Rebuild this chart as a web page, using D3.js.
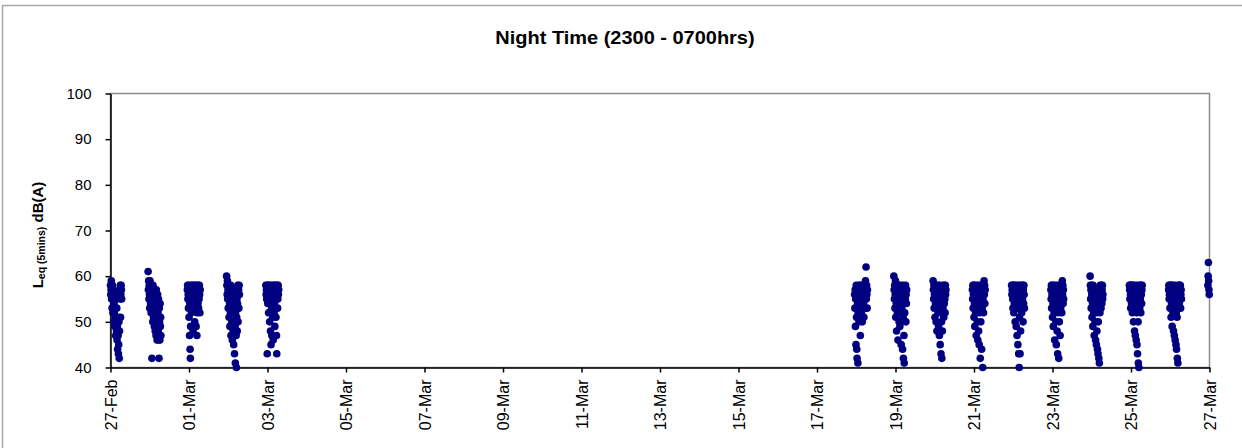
<!DOCTYPE html>
<html lang="en">
<head>
<meta charset="utf-8">
<title>Night Time (2300 - 0700hrs)</title>
<script src="https://cdn.jsdelivr.net/npm/d3@7"></script>
<style>
    body { margin: 0; background: #fff; }
    text { font-family: "Liberation Sans", Arial, sans-serif; }
</style>
</head>
<body>
<script>
// x axis tick labels (every 2 days) and y ticks
var xTickLabels = ["27-Feb","01-Mar","03-Mar","05-Mar","07-Mar","09-Mar","11-Mar","13-Mar",
                   "15-Mar","17-Mar","19-Mar","21-Mar","23-Mar","25-Mar","27-Mar"];
var yTicks = [40, 50, 60, 70, 80, 90, 100];

// start of each logged night, readings every 10 minutes after it
var nightStarts = ["27-Feb 00:00","27-Feb 23:00","28-Feb 23:00","01-Mar 23:00","02-Mar 23:00",
                   "17-Mar 23:00","18-Mar 23:00","19-Mar 23:00","20-Mar 23:00","21-Mar 23:00",
                   "22-Mar 23:00","23-Mar 23:00","24-Mar 23:00","25-Mar 23:00","26-Mar 23:00"];

// Leq (5mins) dB(A) per night
var night01 = [58,56,57,59,55,57,53,58,56,52,55,57,50,54,52,56,49,53,51,47,55,50,48,53,46,49,44,51,47,43,45,50,42,48,57,55,58,51,56,58,57,55];
var night02 = [61,57,59,55,58,56,53,59,57,54,58,52,56,55,42,57,53,50,58,55,51,54,57,49,52,56,48,55,53,47,57,51,54,46,50,56,52,48,55,47,42,53,50,46,54,49,51,47];
var night03 = [57,58,55,56,53,58,51,57,47,54,44,42,49,56,58,52,57,55,58,53,56,48,57,58,55,54,57,50,58,56,53,57,49,55,58,47,52,57,56,54,58,53,57,55,58,56,52,57];
var night04 = [60,58,56,59,55,57,53,58,56,51,57,54,49,56,52,58,47,55,53,50,57,46,54,52,48,56,45,53,50,43,55,49,41,52,57,47,40,51,55,48,54,58,50,56,57,53,58,56];
var night05 = [58,56,57,55,58,43,57,54,58,56,52,57,55,58,50,54,57,48,56,45,58,53,47,57,55,51,58,46,56,57,52,58,54,49,57,55,58,51,56,47,43,57,58,53,55,58,56,57];
var night06 = [56,53,57,49,55,45,58,51,44,42,57,54,41,52,56,58,50,55,57,53,58,47,56,54,57,52,58,55,50,57,53,56,58,54,51,57,55,58,53,56,59,57,62,55,58,56,53,57];
var night07 = [60,57,55,58,53,56,59,51,57,54,48,58,55,52,57,46,56,53,58,50,55,57,49,54,58,52,56,45,57,53,50,55,44,58,51,42,54,47,41,56,52,57,55,58,50,56,54,57];
var night08 = [59,57,55,58,53,56,58,51,57,54,58,50,56,55,48,57,53,58,52,56,49,57,54,47,58,55,45,56,52,43,57,50,42,55,48,58,53,56,57,51,58,54,57,55,52,58,56,57];
var night09 = [57,55,58,53,56,58,51,57,54,49,58,55,52,57,47,56,53,58,50,55,46,57,54,48,56,45,58,52,55,42,57,50,54,58,44,56,53,57,40,55,58,52,57,59,56,58,54,57];
var night10 = [58,56,57,58,55,53,57,58,52,56,54,58,57,50,55,53,58,49,56,57,47,54,58,45,53,57,43,55,40,51,58,43,56,48,57,54,58,52,56,57,55,58,50,57,54,58,56,53];
var night11 = [57,55,58,53,56,58,51,57,54,49,58,55,52,57,46,56,53,58,50,55,45,57,54,48,56,43,58,52,55,42,57,50,54,58,47,56,53,57,55,58,52,57,59,56,58,54,57,55];
var night12 = [60,58,55,57,53,58,56,51,57,54,49,58,55,52,57,47,56,53,50,55,46,57,54,45,52,48,56,44,53,43,50,57,42,54,41,56,52,58,55,57,53,58,56,54,57,58,55,56];
var night13 = [58,57,55,58,56,53,58,57,54,56,58,52,57,55,58,50,56,54,57,48,55,58,47,53,56,46,57,52,45,55,43,58,50,41,54,40,57,56,53,58,55,57,52,58,56,54,57,58];
var night14 = [57,58,55,56,58,53,57,55,58,51,56,54,58,49,57,55,52,58,48,56,54,47,57,53,46,55,58,45,52,44,56,51,42,55,41,57,53,58,56,54,58,57,55,58,53,56,57,55];
var night15 = [58,60,63,59,57,56];

var nights = [night01,night02,night03,night04,night05,night06,night07,night08,
              night09,night10,night11,night12,night13,night14,night15];

var parseDay = d3.utcParse("%d-%b %Y");
var parseStart = d3.utcParse("%d-%b %H:%M %Y");

var points = [];
nights.forEach(function(vals, n) {
    var t0 = parseStart(nightStarts[n] + " 2009");
    vals.forEach(function(v, i) {
        points.push({t: d3.utcMinute.offset(t0, i * 10), v: v});
    });
});

var w = 1242, h = 448;
var x0 = 110.5, x1 = 1209.5, y0 = 93.5, y1 = 367.5;

var svg = d3.select("body").append("svg")
    .attr("width", w)
    .attr("height", h);

// outer chart frame
svg.append("path")
    .attr("d", "M2.5," + h + " V5.5 H" + w)
    .attr("fill", "none")
    .attr("stroke", "#a6a6a6")
    .attr("stroke-width", 1.5);

var x = d3.scaleUtc()
    .domain([parseDay("27-Feb 2009"), parseDay("27-Mar 2009")])
    .range([x0, x1]);

var y = d3.scaleLinear()
    .domain([40, 100])
    .range([y1, y0]);

// plot area border (top/right grey)
svg.append("rect")
    .attr("x", x0).attr("y", y0)
    .attr("width", x1 - x0).attr("height", y1 - y0)
    .attr("fill", "none")
    .attr("stroke", "#8c8c8c")
    .attr("stroke-width", 1.5);

var yAxis = svg.append("g")
    .attr("transform", "translate(" + x0 + ",0)")
    .call(d3.axisLeft(y).tickValues(yTicks).tickSize(5).tickSizeOuter(0).tickPadding(14));
yAxis.selectAll("text").attr("font-size", 15).attr("fill", "#000");

var xAxis = svg.append("g")
    .attr("transform", "translate(0," + y1 + ")")
    .call(d3.axisBottom(x)
        .tickValues(xTickLabels.map(function(s) { return parseDay(s + " 2009"); }))
        .tickFormat(d3.utcFormat("%d-%b"))
        .tickSize(5).tickSizeOuter(0));
xAxis.selectAll("text")
    .attr("font-size", 16)
    .attr("fill", "#000")
    .attr("transform", "rotate(-90)")
    .attr("text-anchor", "end")
    .attr("x", -12)
    .attr("y", 0)
    .attr("dy", "0.35em");

svg.selectAll(".domain, .tick line").attr("stroke", "#000").attr("stroke-width", 1.5);

// title
svg.append("text")
    .attr("transform", "translate(625,44) scale(1.11,1)")
    .attr("text-anchor", "middle")
    .attr("font-size", 18)
    .attr("font-weight", "bold")
    .text("Night Time (2300 - 0700hrs)");

// y axis label with subscript
var ylab = svg.append("text")
    .attr("transform", "translate(43,235) rotate(-90)")
    .attr("text-anchor", "middle")
    .attr("font-size", 15)
    .attr("font-weight", "bold");
ylab.append("tspan").text("L");
ylab.append("tspan").attr("font-size", 10.5).attr("dy", 2).text("eq (5mins)");
ylab.append("tspan").attr("dy", -2).text(" dB(A)");

// readings
svg.append("g").selectAll("circle")
    .data(points)
    .enter()
    .append("circle")
    .attr("cx", function(d) { return x(d.t); })
    .attr("cy", function(d) { return y(d.v); })
    .attr("r", 3.8)
    .attr("fill", "#000080");
</script>
</body>
</html>
